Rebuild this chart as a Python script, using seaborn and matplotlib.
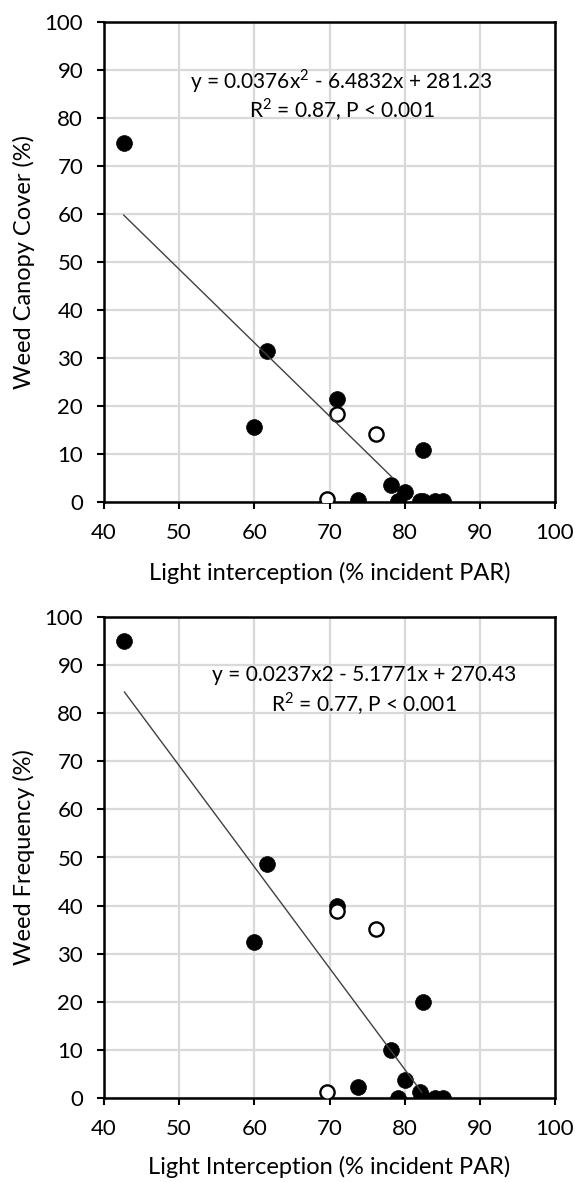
import numpy as np
import pandas as pd
import matplotlib
matplotlib.use("Agg")
import matplotlib.pyplot as plt
import seaborn as sns

# ---- data ----
filled_x = [42.6, 61.7, 71.0, 60.0, 82.4, 78.2, 80.1, 79.1, 73.8, 82.0, 82.5, 84.1, 85.1]
filled_cover = [74.8, 31.5, 21.5, 15.6, 10.9, 3.5, 2.1, 0.2, 0.4, 0.2, 0.2, 0.2, 0.2]
filled_freq = [95.0, 48.7, 40.0, 32.5, 20.0, 10.0, 3.7, 0.0, 2.4, 1.4, 0.0, 0.0, 0.0]

open_x = [71.0, 76.2, 69.7]
open_cover = [18.3, 14.1, 0.6]
open_freq = [38.9, 35.2, 1.4]

fit_x_cover = [42.6, 78.3]
fit_y_cover = [59.8, 5.2]
fit_x_freq = [42.7, 82.3]
fit_y_freq = [84.4, 1.2]

x_ticks = [40, 50, 60, 70, 80, 90, 100]
y_ticks = [0, 10, 20, 30, 40, 50, 60, 70, 80, 90, 100]

eq_cover = ["y = 0.0376x$^2$ - 6.4832x + 281.23", "R$^2$ = 0.87, P < 0.001"]
eq_freq = ["y = 0.0237x2 - 5.1771x + 270.43", "R$^2$ = 0.77, P < 0.001"]

# ---- style ----
sns.set_style("white")
plt.rcParams['font.family'] = ['Lato', 'DejaVu Sans']
plt.rcParams['mathtext.fontset'] = 'custom'
plt.rcParams['mathtext.rm'] = 'Lato'

W, H = 575, 1182
fig = plt.figure(figsize=(W / 100, H / 100), dpi=100)
ax1 = fig.add_axes([104 / W, 1 - 502 / H, 451 / W, 480 / H])
ax2 = fig.add_axes([104 / W, 1 - 1098.3 / H, 451 / W, 481.6 / H])

panels = [
    (ax1, filled_cover, open_cover, fit_x_cover, fit_y_cover, eq_cover,
     "Weed Canopy Cover (%)", "Light interception (% incident PAR)", (71.6, 87.6, 81.7), -0.148),
    (ax2, filled_freq, open_freq, fit_x_freq, fit_y_freq, eq_freq,
     "Weed Frequency (%)", "Light Interception (% incident PAR)", (74.6, 87.9, 82.0), -0.142),
]

for ax, fy, oy, fx_line, fy_line, eq, ylab, xlab, (ex, ey1, ey2), xlab_y in panels:
    ax.set_axisbelow(True)
    ax.grid(True, color='#d9d9d9', lw=1.6)
    df_f = pd.DataFrame({"x": filled_x, "y": fy})
    df_o = pd.DataFrame({"x": open_x, "y": oy})
    sns.scatterplot(data=df_f, x="x", y="y", ax=ax, s=130, color='black',
                    edgecolor='black', linewidth=0.5, zorder=3, legend=False)
    sns.scatterplot(data=df_o, x="x", y="y", ax=ax, s=105, color='white',
                    edgecolor='black', linewidth=1.7, zorder=3, legend=False)
    df_l = pd.DataFrame({"x": fx_line, "y": fy_line})
    sns.lineplot(data=df_l, x="x", y="y", ax=ax, color='#404040', lw=1.0, zorder=4)
    ax.set_xlim(40, 100)
    ax.set_ylim(0, 100)
    ax.set_xticks(x_ticks)
    ax.set_yticks(y_ticks)
    ax.tick_params(direction='out', length=5, width=1.5, pad=10,
                   labelsize=16, colors='black', bottom=True, left=True)
    for sp in ax.spines.values():
        sp.set_visible(True)
        sp.set_color('black')
        sp.set_linewidth(1.8)
    ax.set_xlabel(xlab, fontsize=17, color='black', va='center')
    ax.set_ylabel(ylab, fontsize=17, color='black', va='center')
    ax.yaxis.set_label_coords(-0.177, 0.5)
    ax.xaxis.set_label_coords(0.5, xlab_y)
    ax.text(ex, ey1, eq[0], ha='center', va='center', fontsize=15, color='black')
    ax.text(ex, ey2, eq[1], ha='center', va='center', fontsize=15, color='black')

fig.savefig("out.png", dpi=100)
